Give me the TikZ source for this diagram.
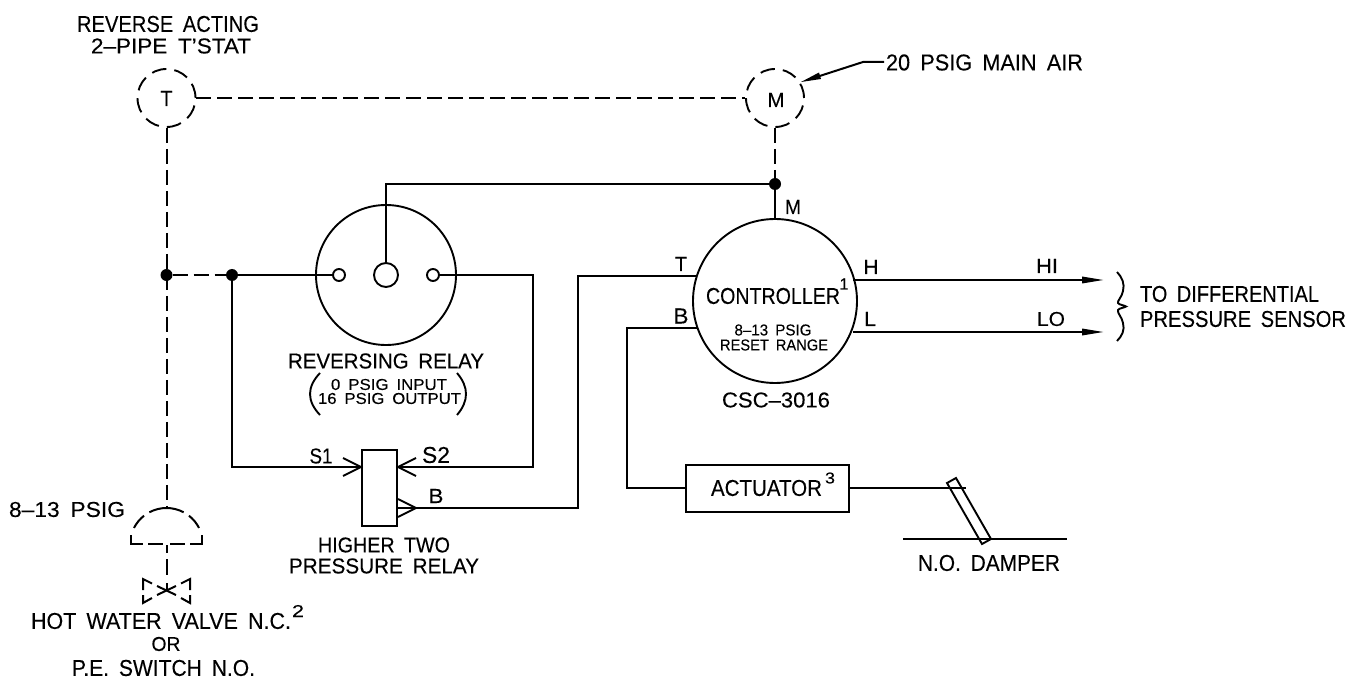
\documentclass[tikz,border=0pt]{standalone}
\usepackage{fontspec}
\usepackage{graphicx}
\setmainfont[WordSpace=1.7,FakeBold=0.2]{Liberation Sans}
\newcommand{\cad}[3]{\resizebox{#1pt}{#2pt}{\fontsize{\dimexpr #2pt*14/10\relax}{\dimexpr #2pt*16/10\relax}\selectfont #3}}
\tikzset{
  lab/.style={inner sep=0pt,outer sep=0pt},
  ln/.style={line width=2pt,line join=miter},
  dsh/.style={line width=2pt,dash pattern=on 15pt off 6pt},
  dshc/.style={circle,draw,line width=1.9pt,dash pattern=on 14.8pt off 8pt,minimum size=58pt,inner sep=0pt},
  solidc/.style={circle,draw,line width=1.9pt,inner sep=0pt},
  junction/.style={circle,fill=black,minimum size=12pt,inner sep=0pt},
  fillhead/.style={fill=black,draw=none}
}
\begin{document}
\begin{tikzpicture}[x=1pt,y=-1pt]
\useasboundingbox (0,0) rectangle (1361,679);
% ---- circles
\node[dshc] (T) at (166.5,98) {};
\node[dshc] (M) at (775,98) {};
\node[solidc,minimum size=140pt] (RR) at (386,275) {};
\node[solidc,minimum size=24pt] (RC) at (386,275) {};
\node[solidc,minimum size=12pt] (RL) at (339,275) {};
\node[solidc,minimum size=12pt] (RH) at (433,275) {};
\node[solidc,minimum size=164pt] (C) at (775,301) {};
% ---- boxes
\node[draw,line width=2pt,minimum width=35pt,minimum height=76pt,inner sep=0pt] (HP) at (379.5,488) {};
\node[draw,line width=2pt,minimum width=163pt,minimum height=47pt,inner sep=0pt] (AC) at (767.5,488) {};
% ---- junctions
\node[junction] (J1) at (166.5,275) {};
\node[junction] (J2) at (232,275) {};
\node[junction] (J3) at (775,184) {};
% ---- helper coordinates
\coordinate (DT) at (166.5,508);
\coordinate (DC) at (166.5,544.5);
\coordinate (S1t) at (361,467);
\coordinate (S2t) at (398,467);
\coordinate (Bt) at (416,508);
\coordinate (Bb) at (398,508);
% ---- dashed piping
\draw[dsh] (T.east) -- (M.west);
\draw[dsh] (T.south) -- (DT);
\draw[dsh] (M.south) -- (J3);
\draw[dsh] (J1) -- (J2);
% dome
\begin{scope}[line width=2pt]
\draw (131,535) -- (131,544) -- (143,544);
\draw (202,535) -- (202,544) -- (190,544);
\draw (148,544) -- (163,544);
\draw (170,544) -- (185,544);
\draw (DC) ++(207:36.5) arc[start angle=207,end angle=232,radius=36.5];
\draw (DC) ++(242:36.5) arc[start angle=242,end angle=298,radius=36.5];
\draw (DC) ++(308:36.5) arc[start angle=308,end angle=333,radius=36.5];
\draw (166.5,545) -- (166.5,553);
\draw (166.5,559) -- (166.5,575);
\draw (166.5,583) -- (166.5,590);
% valve
\draw (143,590) -- (143,579) -- (152,583.5);
\draw (143,595) -- (143,603) -- (152,598);
\draw (190,590) -- (190,579) -- (181,583.5);
\draw (190,595) -- (190,603) -- (181,598);
\draw (157,586) -- (176,595);
\draw (157,595) -- (176,586);
\end{scope}
% ---- solid piping
\draw[ln] (J2) -- (RL.west);
\draw[ln] (J2) |- (S1t);
\draw[ln] (RH.east) -| (533,467) -- (S2t);
\draw[ln] (RC.north) |- (J3);
\draw[ln] (J3) -- (C.north);
\draw[ln] (Bb) -- (578,508) |- (697,276) coordinate (CT);
\draw[ln] (AC.west) -| (627,328) -- (697,328) coordinate (CB);
\draw[ln] (853,280) coordinate (CH) -- (1084,280) coordinate (HIe);
\draw[ln] (853,332) coordinate (CL) -- (1084,332) coordinate (LOe);
% arrow heads
\draw[ln] (343,458) -- (S1t) -- (343,476);
\draw[ln] (416,458) -- (S2t) -- (416,476);
\draw[ln] (398,499) -- (Bt) -- (398,517);
\fill[fillhead] (1103,280) coordinate (HIt) -- (1082,276.5) -- (1082,283.5) -- cycle;
\fill[fillhead] (1103,332) coordinate (LOt) -- (1082,328.5) -- (1082,335.5) -- cycle;
% main air leader
\coordinate (Lead) at (884,62);
\draw[ln] (Lead) -- (863,62) -- (815,77.5);
\fill[fillhead] (801,82) -- (821,79) -- (819,72.5) -- cycle;
% brace
\draw[line width=1.9pt] (1117,272) .. controls (1122,277) and (1125,284) .. (1123,291)
  .. controls (1122,297) and (1117,301) .. (1118,303) .. controls (1119,305) and (1124,305) .. (1126,306.5)
  .. controls (1124,308) and (1119,308) .. (1118,310) .. controls (1117,313) and (1122,317) .. (1123,323)
  .. controls (1125,330) and (1122,336) .. (1117,341);
% actuator to damper
\draw[ln,line width=1.8pt] (AC.east) -- (966,488);
\draw[ln] (903,539) -- (1067,539);
\draw[line width=1.9pt] (947,483) -- (956,478) -- (991,539) -- (982,544) -- cycle;
% relay parentheses
\draw[line width=1.9pt] (320,373) .. controls (306.7,387) and (306.7,401) .. (320,415);
\draw[line width=1.9pt] (457,373) .. controls (469,387) and (469,401) .. (457,415);
% ---- labels
\node[lab] (t1) at (168,24) {\cad{182}{16}{REVERSE ACTING}};
\node[lab] (t2) at (171,46) {\cad{160}{15}{2–PIPE T’STAT}};
\node[lab] (t3) at (166.5,98.5) {\cad{12}{15}{T}};
\node[lab] (t4) at (776,100) {\cad{17}{14}{M}};
\node[lab] (t5) at (984.5,62.5) {\cad{197}{16}{20 PSIG MAIN AIR}};
\node[lab] (t6) at (793,207) {\cad{16}{14}{M}};
\node[lab] (t7) at (681,264) {\cad{12}{14}{T}};
\node[lab] (t8) at (681,316) {\cad{15}{15}{B}};
\node[lab] (t9) at (871,267) {\cad{15}{14}{H}};
\node[lab] (t10) at (870,319) {\cad{12}{14}{L}};
\node[lab] (t11) at (773,296) {\cad{134}{16}{CONTROLLER}};
\node[lab] (t12) at (844,284) {\cad{9}{11}{1}};
\node[lab] (t13) at (773,330) {\cad{77}{11}{8–13 PSIG}};
\node[lab] (t14) at (774,345) {\cad{108}{11}{RESET RANGE}};
\node[lab] (t15) at (776,400) {\cad{108}{15}{CSC–3016}};
\node[lab] (t16) at (1047,266) {\cad{22}{14}{HI}};
\node[lab] (t17) at (1051,319) {\cad{28}{14}{LO}};
\node[lab] (t18) at (1229.5,294) {\cad{179}{16}{TO DIFFERENTIAL}};
\node[lab] (t19) at (1243,319) {\cad{206}{16}{PRESSURE SENSOR}};
\node[lab] (t20) at (386,361) {\cad{196}{15}{REVERSING RELAY}};
\node[lab] (t21) at (389,384.5) {\cad{116}{11}{0 PSIG INPUT}};
\node[lab] (t22) at (389.5,398.5) {\cad{143}{11}{16 PSIG OUTPUT}};
\node[lab] (t23) at (384,545) {\cad{132}{15}{HIGHER TWO}};
\node[lab] (t24) at (384,566) {\cad{190}{15}{PRESSURE RELAY}};
\node[lab] (t25) at (321,456) {\cad{23}{15}{S1}};
\node[lab] (t26) at (436,455) {\cad{28}{16}{S2}};
\node[lab] (t27) at (436,496) {\cad{15}{14}{B}};
\node[lab] (t28) at (67,509.5) {\cad{116}{15}{8–13 PSIG}};
\node[lab] (t29) at (161,621) {\cad{260}{16}{HOT WATER VALVE N.C.}};
\node[lab] (t30) at (298,611) {\cad{12}{12}{2}};
\node[lab] (t31) at (166,644) {\cad{29}{14}{OR}};
\node[lab] (t32) at (163.5,668) {\cad{183}{16}{P.E. SWITCH N.O.}};
\node[lab] (t33) at (766.5,488) {\cad{111}{16}{ACTUATOR}};
\node[lab] (t34) at (830,478) {\cad{10}{11}{3}};
\node[lab] (t35) at (989,563) {\cad{142}{16}{N.O. DAMPER}};
\end{tikzpicture}
\end{document}
